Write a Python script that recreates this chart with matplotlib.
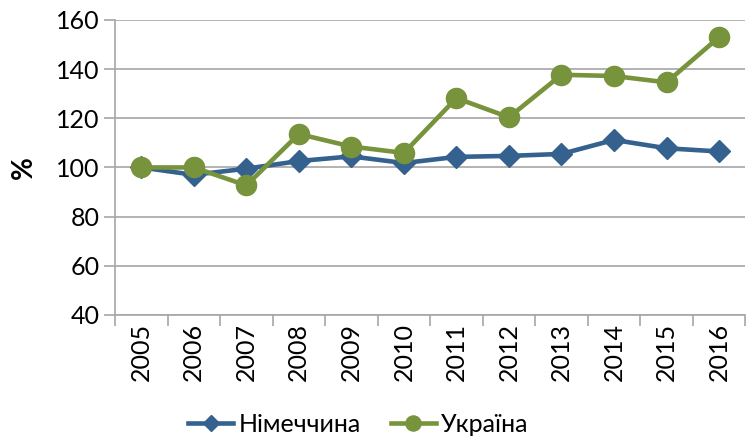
import matplotlib.pyplot as plt
import numpy as np

# data
years = ["2005", "2006", "2007", "2008", "2009", "2010",
         "2011", "2012", "2013", "2014", "2015", "2016"]
germany = [100, 97, 99.5, 102.6, 104.5, 101.8, 104.3, 104.7, 105.5, 111.2, 107.8, 106.5]
ukraine = [100, 100, 92.7, 113.6, 108.5, 105.9, 128.2, 120.4, 137.7, 137.2, 134.6, 153]

blue = "#35618F"
green = "#77933C"
grid_col = "#A6A6A6"

plt.rcParams['font.family'] = ['Lato', 'DejaVu Sans']

fig = plt.figure(figsize=(7.54, 4.43), dpi=100)
ax = fig.add_axes([0.1525, 0.289, 0.836, 0.666])

x = np.arange(len(years))
ax.plot(x, germany, color=blue, lw=3.3, marker="D", markersize=11, label="Німеччина")
ax.plot(x, ukraine, color=green, lw=3.3, marker="o", markersize=14.5, label="Україна")

ax.set_xlim(-0.5, len(years) - 0.5)
ax.set_ylim(40, 160)
ax.set_yticks(range(40, 161, 20))
ax.yaxis.grid(True, color=grid_col, lw=1.2)
ax.set_axisbelow(True)

# category ticks at boundaries, labels at centres
ax.set_xticks(np.arange(-0.5, len(years), 1))
ax.set_xticklabels([])
ax.set_xticks(x, minor=True)
ax.set_xticklabels(years, minor=True, rotation=90, fontsize=18)
ax.tick_params(axis="x", which="major", length=8, color=grid_col, width=1.2)
ax.tick_params(axis="x", which="minor", length=0, pad=6)
ax.tick_params(axis="y", length=8, color=grid_col, width=1.2, labelsize=18, pad=3)

for s in ["top", "right"]:
    ax.spines[s].set_visible(False)
for s in ["left", "bottom"]:
    ax.spines[s].set_color(grid_col)
    ax.spines[s].set_linewidth(1.2)

ax.set_ylabel("%", fontsize=20, fontweight="bold", labelpad=14)

fig.legend(loc="lower center", bbox_to_anchor=(0.475, -0.035), ncol=2, frameon=False,
           fontsize=18, handlelength=1.8, columnspacing=1.2, handletextpad=0.2,
           markerscale=0.75)

fig.savefig("out.png", dpi=100)
